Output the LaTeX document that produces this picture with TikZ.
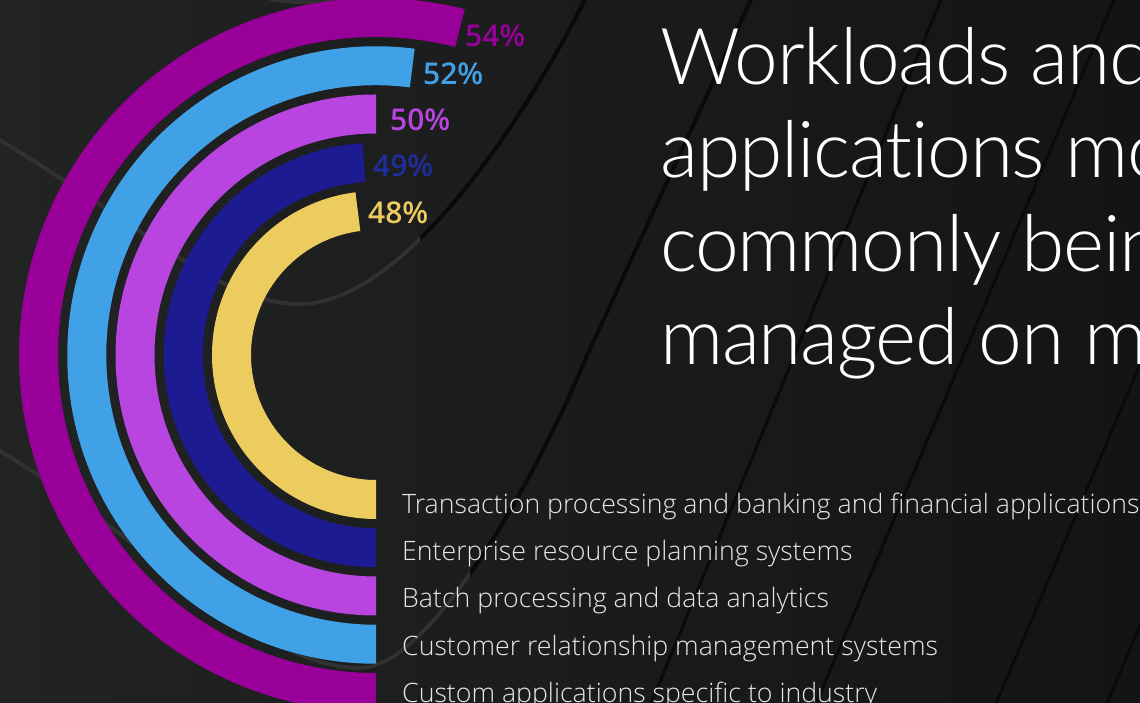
\documentclass[tikz,border=0pt]{standalone}
\usepackage{fontspec}
\setmainfont{Open Sans}
\newfontfamily\titlefont{Lato Light}[Ligatures={NoCommon},LetterSpace=-1.6]
\newfontfamily\listfont{Open Sans Light}
\newfontfamily\pctfont{Open Sans Semibold}
\definecolor{bgleft}{HTML}{222323}
\definecolor{bgright}{HTML}{131415}
\definecolor{decogrey}{HTML}{303131}
\definecolor{decoblack}{HTML}{0A0A0A}
\definecolor{bandmagenta}{HTML}{990099}
\definecolor{bandblue}{HTML}{41A1E6}
\definecolor{bandpurple}{HTML}{B845E0}
\definecolor{bandnavy}{HTML}{1C1B91}
\definecolor{navytext}{HTML}{1F2E9C}
\definecolor{bandyellow}{HTML}{EDCC5F}
\definecolor{listgrey}{HTML}{E6E6E6}

\begin{document}
\begin{tikzpicture}[x=1pt,y=1pt,
  pct/.style={anchor=base west,inner sep=0pt,font=\pctfont\fontsize{30}{36}\selectfont},
  item/.style={anchor=base west,inner sep=0pt,text=listgrey,font=\listfont\fontsize{26.7}{32}\selectfont},
  ttl/.style={anchor=base west,inner sep=0pt,text=white,font=\titlefont\fontsize{78.5}{93}\selectfont},
  deco/.style={line width=4pt},
  slash/.style={line width=3pt,decoblack}]
  \useasboundingbox (0,0) rectangle (1140,703);
  \clip (0,0) rectangle (1140,703);
  \shade[left color=bgleft,right color=bgright] (0,0) rectangle (1140,703);
  % background curves and slanted lines
  \draw[deco,decogrey] (-10,258) .. controls (150,163) and (260,35) .. (360,35);
  \draw[deco,decoblack] (360,35) .. controls (430,35) and (535,223) .. (585,343) -- (760,723);
  \begin{scope}
    \clip (0,0) rectangle (470,703);
    \draw[deco,decogrey] (360,35) .. controls (430,35) and (535,223) .. (585,343);
  \end{scope}
  \draw[deco,decogrey] (-10,569) .. controls (150,473) and (220,399) .. (300,399);
  \draw[deco,decoblack] (300,399) .. controls (400,399) and (520,573) .. (590,713);
  \begin{scope}
    \clip (0,0) rectangle (420,703);
    \draw[deco,decogrey] (300,399) .. controls (400,399) and (520,573) .. (590,713);
  \end{scope}
  \draw[deco,decogrey] (255,708) .. controls (285,699) and (330,698) .. (365,706);
  \draw[slash] (945,713) -- (647,-10);
  \draw[slash] (1118,713) -- (812,-10);
  \draw[slash] (1299,713) -- (992,-10);
  \draw[slash] (1407,713) -- (1103,-10);
  % Radial bars, centre of the rings at (376,348)
  \begin{scope}[shift={(376,348)}]
    \fill[bandmagenta] (270:357) arc[start angle=270,end angle=75.6,radius=357]
      -- (75.6:318) arc[start angle=75.6,end angle=270,radius=318] -- cycle;
    \fill[bandblue] (270:308.75) arc[start angle=270,end angle=82.8,radius=308.75]
      -- (82.8:269.75) arc[start angle=82.8,end angle=270,radius=269.75] -- cycle;
    \fill[bandpurple] (270:260.5) arc[start angle=270,end angle=90,radius=260.5]
      -- (90:221.5) arc[start angle=90,end angle=270,radius=221.5] -- cycle;
    \fill[bandnavy] (270:212.25) arc[start angle=270,end angle=93.6,radius=212.25]
      -- (93.6:173.25) arc[start angle=93.6,end angle=270,radius=173.25] -- cycle;
    \fill[bandyellow] (270:164) arc[start angle=270,end angle=97.2,radius=164]
      -- (97.2:125) arc[start angle=97.2,end angle=270,radius=125] -- cycle;
  \end{scope}
  % percentages at the ends of the bars
  \node[pct,text=bandmagenta] (p54) at (465,656) {54\%};
  \node[pct,text=bandblue]    (p52) at (423,618) {52\%};
  \node[pct,text=bandpurple]  (p50) at (390,572) {50\%};
  \node[pct,text=navytext]    (p49) at (373,526) {49\%};
  \node[pct,text=bandyellow]  (p48) at (368,479) {48\%};
  % legend, one line per bar
  \node[item] (trans)  at (402,189) {Transaction processing and banking and financial applications};
  \node[item] (erp)    at (402,142) {Enterprise resource planning systems};
  \node[item] (batch)  at (402,95)  {Batch processing and data analytics};
  \node[item] (crm)    at (402,47)  {Customer relationship management systems};
  \node[item] (custom) at (402,0)   {Custom applications specific to industry};
  % title
  \node[ttl] (ttla) at (660,618) {Workloads and};
  \node[ttl] (ttlb) at (660,525) {applications mo};
  \node[ttl] (ttlc) at (660,431) {commonly bein};
  \node[ttl] (ttld) at (660,338) {managed on m};
\end{tikzpicture}
\end{document}
